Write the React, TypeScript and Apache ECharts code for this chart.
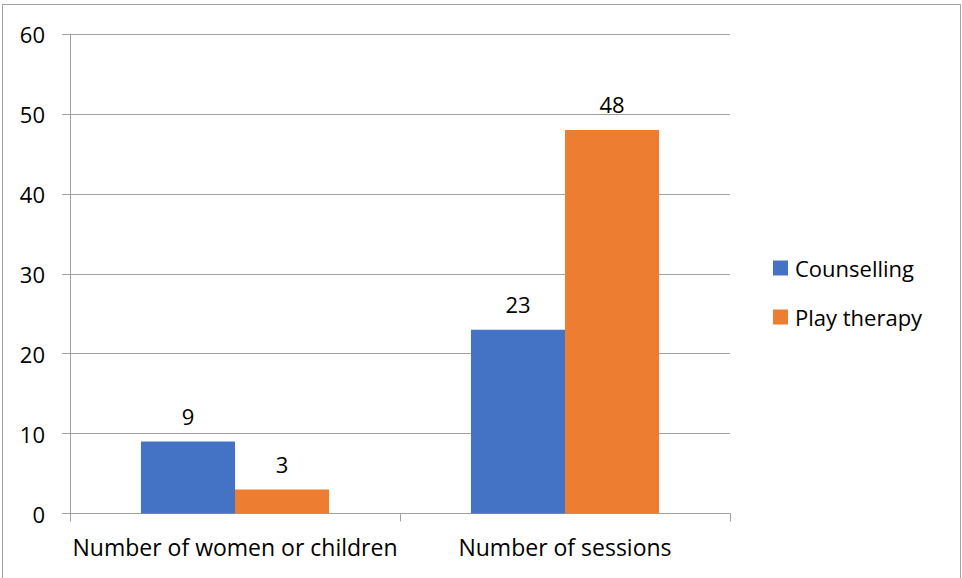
import React, { useEffect, useRef } from "react";
import * as echarts from "echarts";

const categories = ["Number of women or children", "Number of sessions"];
const counselling = [9, 23];
const playTherapy = [3, 48];
const seriesNames = ["Counselling", "Play therapy"];
const yTicks = { min: 0, max: 60, interval: 10 };

const FONT = "'Open Sans', 'Noto Sans', sans-serif";
const GRID = "#A0A0A0";

export default function App() {
  const ref = useRef<HTMLDivElement>(null);
  useEffect(() => {
    if (!ref.current) return;
    const chart = echarts.init(ref.current, undefined, { renderer: "svg" });
    const labelCfg = {
      show: true,
      position: "top",
      distance: 15,
      color: "#000",
      fontFamily: FONT,
      fontSize: 22,
    };
    chart.setOption({
      animation: false,
      backgroundColor: "#fff",
      textStyle: { fontFamily: FONT },
      graphic: [
        {
          type: "rect",
          shape: { x: 2.5, y: 4.5, width: 958, height: 600 },
          style: { fill: "none", stroke: "#A0A0A0", lineWidth: 1 },
          silent: true,
        },
      ],
      grid: { left: 70, right: 232, top: 34, bottom: 64.5, containLabel: false },
      legend: {
        orient: "vertical",
        left: 773,
        top: 257,
        padding: 0,
        itemWidth: 15,
        itemHeight: 15,
        itemGap: 27,
        icon: "rect",
        textStyle: { fontFamily: FONT, fontSize: 22, color: "#000", padding: [0, 0, 0, 2] },
        data: seriesNames,
      },
      xAxis: {
        type: "category",
        data: categories,
        axisLine: { show: true, lineStyle: { color: GRID, width: 1 } },
        axisTick: { show: true, length: 8, lineStyle: { color: GRID } },
        axisLabel: { color: "#000", fontFamily: FONT, fontSize: 23, margin: 22, interval: 0 },
        splitLine: { show: false },
      },
      yAxis: {
        type: "value",
        min: yTicks.min,
        max: yTicks.max,
        interval: yTicks.interval,
        axisLine: { show: true, lineStyle: { color: GRID, width: 1 } },
        axisTick: { show: true, length: 8, lineStyle: { color: GRID } },
        axisLabel: { color: "#000", fontFamily: FONT, fontSize: 22, margin: 25 },
        splitLine: { show: true, lineStyle: { color: GRID, width: 1 } },
      },
      series: [
        {
          name: seriesNames[0],
          type: "bar",
          data: counselling,
          itemStyle: { color: "#4472C4" },
          barGap: "0%",
          barCategoryGap: "43%",
          label: labelCfg,
        },
        {
          name: seriesNames[1],
          type: "bar",
          data: playTherapy,
          itemStyle: { color: "#ED7D31" },
          barGap: "0%",
          barCategoryGap: "43%",
          label: labelCfg,
        },
      ],
    });
    return () => chart.dispose();
  }, []);
  return (
    <div
      ref={ref}
      style={{ position: "fixed", left: 0, top: 0, width: 962, height: 578 }}
    />
  );
}
